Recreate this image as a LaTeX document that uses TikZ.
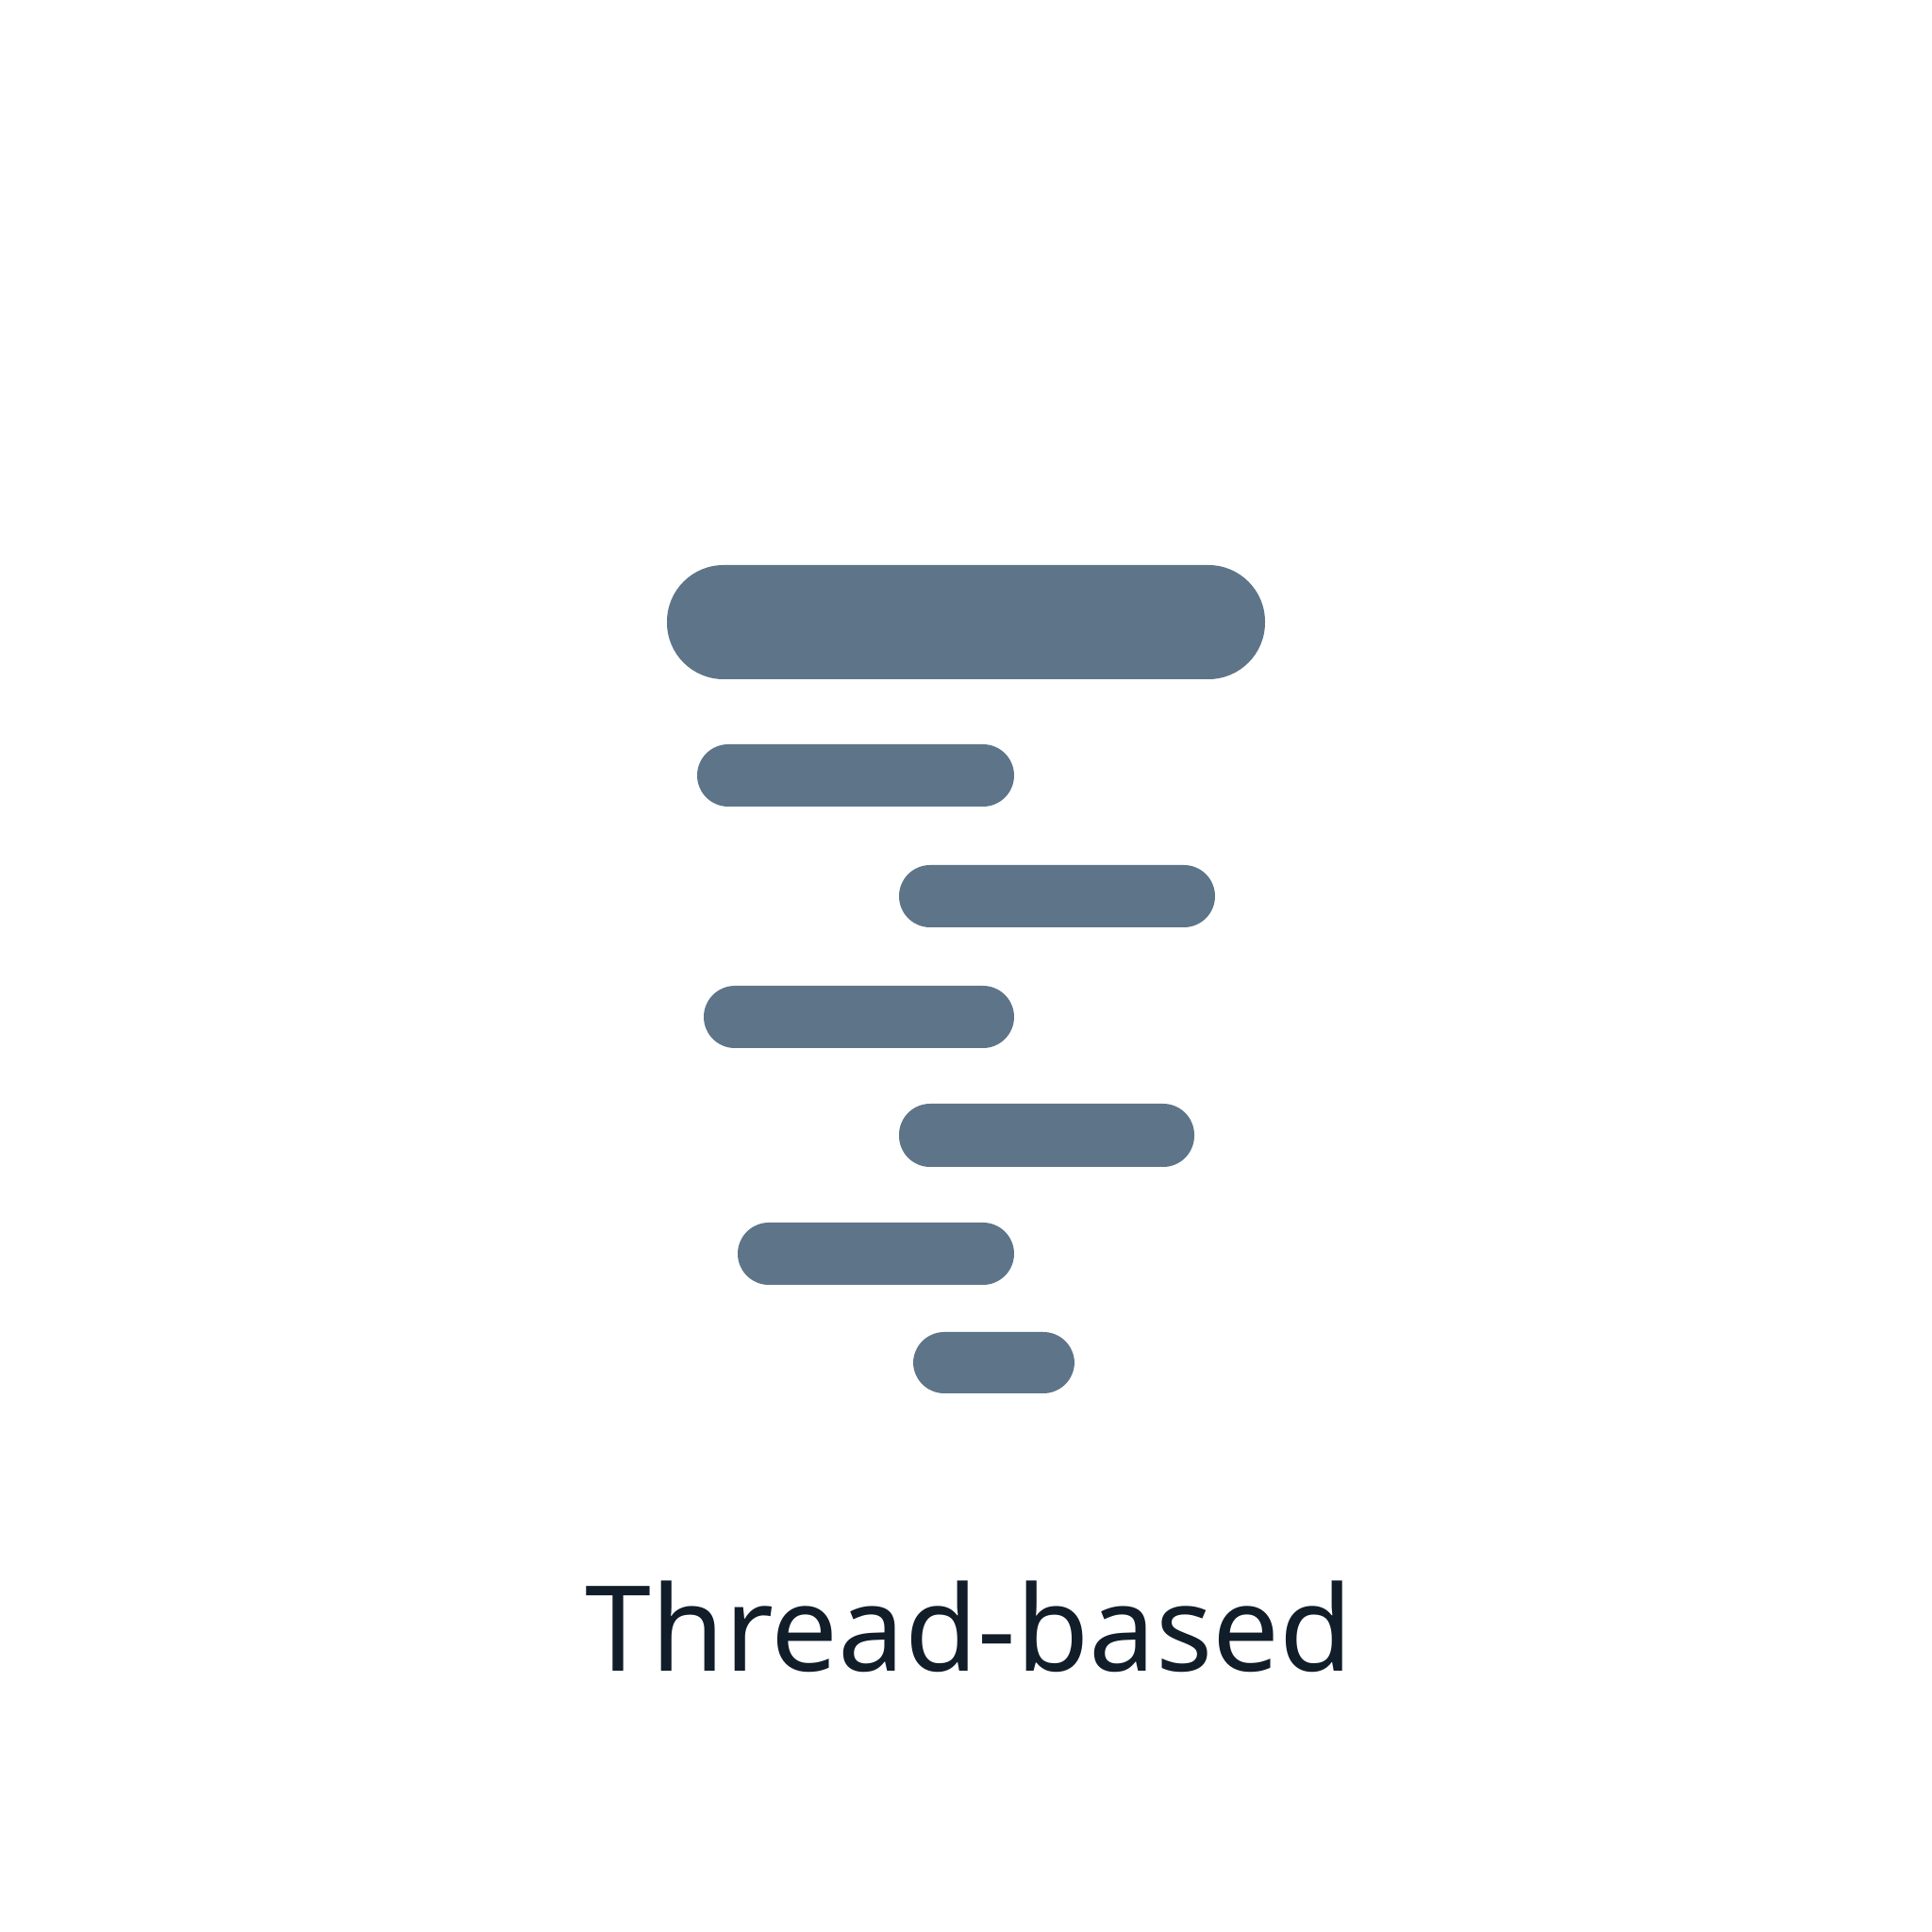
\documentclass[tikz,border=0pt]{standalone}
\usepackage{fontspec}
\setmainfont{Noto Sans}
\definecolor{barblue}{HTML}{5E7589}
\definecolor{inkdark}{HTML}{111D29}
\begin{document}
\begin{tikzpicture}
		\useasboundingbox (0, 0) rectangle (20.48, 20.48);
		\fill[barblue, rounded corners=0.6cm] (7.07, 13.28) rectangle (13.41, 14.49);
		\fill[barblue, rounded corners=0.33cm] (7.39, 11.93) rectangle (10.75, 12.59);
		\fill[barblue, rounded corners=0.33cm] (9.53, 10.65) rectangle (12.88, 11.31);
		\fill[barblue, rounded corners=0.33cm] (7.46, 9.37) rectangle (10.75, 10.03);
		\fill[barblue, rounded corners=0.33cm] (9.53, 8.11) rectangle (12.66, 8.78);
		\fill[barblue, rounded corners=0.33cm] (7.82, 6.86) rectangle (10.75, 7.52);
		\fill[barblue, rounded corners=0.33cm] (9.68, 5.71) rectangle (11.39, 6.36);

		\node (label) at (10.27, 2.76) [anchor=base, text=inkdark, inner sep=0pt] {\fontsize{35.8}{43}\selectfont Thread-based};
	\end{tikzpicture}
\end{document}
